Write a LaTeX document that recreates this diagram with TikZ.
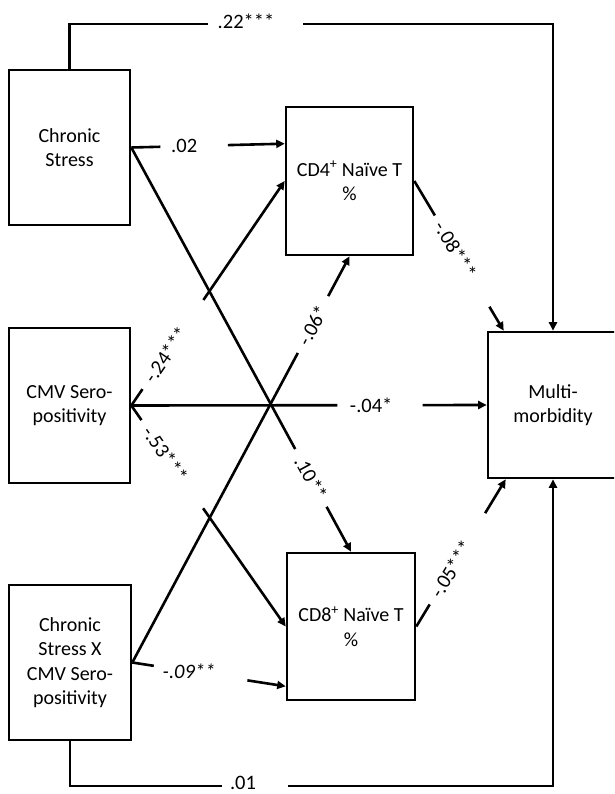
\documentclass[tikz,border=0pt]{standalone}
\usepackage{fontspec}
\setmainfont{Carlito}
\usetikzlibrary{arrows.meta,calc}
\begin{document}
\begin{tikzpicture}[x=1pt,y=-1pt,
  box/.style={draw,line width=2.6pt,inner sep=0pt,align=center,font=\fontsize{20}{24.5}\selectfont},
  conn/.style={line width=2.6pt},
  arr/.style={conn,-{Triangle[length=8.5pt,width=8pt]}},
  lab/.style={font=\fontsize{20.5}{24}\selectfont,inner sep=0pt}]
\clip (0,0) rectangle (614,794);
\fill[white] (0,0) rectangle (614,794);
% boxes
\node[box,minimum width=121pt,minimum height=155pt] (cs) at (69.5,147.5) {Chronic\\Stress};
\node[box,minimum width=127pt,minimum height=148pt] (cd4) at (349.5,181) {CD4\textsuperscript{+} Naïve T\\\%};
\node[box,minimum width=121pt,minimum height=155pt] (cmv) at (69.5,405.5) {CMV Sero-\\positivity};
\node[box,minimum width=130pt,minimum height=146pt] (multi) at (553,405) {Multi-\\morbidity};
\node[box,minimum width=128pt,minimum height=147pt] (cd8) at (351,626.5) {CD8\textsuperscript{+} Naïve T\\\%};
\node[box,minimum width=122pt,minimum height=155pt] (csx) at (70,662.5) {Chronic\\Stress X\\CMV Sero-\\positivity};
% helper end points on box borders
\coordinate (cd4a) at ($(cd4.north west)+(0,38)$);
\coordinate (cd8a) at ($(cd8.south west)+(0,-15)$);
\coordinate (mtop) at ($(multi.north west)+(17,0)$);
\coordinate (mbot) at ($(multi.south west)+(19,0)$);
% top path .22***
\coordinate (tl) at (208,24);
\coordinate (tr) at (303,24);
\draw[conn] (cs.north) |- (tl);
\draw[arr] (tr) -| (multi.north);
\node[lab] (l22) at (246,21) {.22***};
% bottom path .01
\coordinate (bl) at (222,786);
\coordinate (br) at (288,786);
\draw[conn] (csx.south) |- (bl);
\draw[arr] (br) -| (multi.south);
\node[lab] (l01) at (243,783) {.01};
% CS -> CD4
\draw[conn] (cs.east) -- ($(cs.east)!0.19!(cd4a)$);
\draw[arr] ($(cs.east)!0.63!(cd4a)$) -- (cd4a);
\path (cs.east) -- (cd4a) node[lab,pos=0.345] (l02) {.02};
% CS -> CD8
\draw[conn] (cs.east) -- ($(cs.east)!0.746!(cd8.north)$);
\draw[arr] ($(cs.east)!0.889!(cd8.north)$) -- (cd8.north);
\path (cs.east) -- (cd8.north) node[lab,pos=0.818,sloped] (l10) {.10**};
% CMV -> CD4
\draw[conn] (cmv.east) -- ($(cmv.east)!0.073!(cd4.west)$);
\draw[arr] ($(cmv.east)!0.47!(cd4.west)$) -- (cd4.west);
\path (cmv.east) -- (cd4.west) node[lab,pos=0.225,sloped] (l24) {-.24***};
% CMV -> CD8
\draw[conn] (cmv.east) -- ($(cmv.east)!0.066!(cd8.west)$);
\draw[arr] ($(cmv.east)!0.465!(cd8.west)$) -- (cd8.west);
\path (cmv.east) -- (cd8.west) node[lab,pos=0.22,sloped] (l53) {-.53***};
% CMV -> Multi
\draw[conn] (cmv.east) -- ($(cmv.east)!0.58!(multi.west)$);
\draw[arr] ($(cmv.east)!0.82!(multi.west)$) -- (multi.west);
\path (cmv.east) -- (multi.west) node[lab,pos=0.675] (l04) {-.04*};
% CSxCMV -> CD4
\draw[conn] (csx.east) -- ($(csx.east)!0.762!(cd4.south)$);
\draw[arr] ($(csx.east)!0.902!(cd4.south)$) -- (cd4.south);
\path (csx.east) -- (cd4.south) node[lab,pos=0.83,sloped] (l06) {-.06*};
% CSxCMV -> CD8
\draw[conn] (csx.east) -- ($(csx.east)!0.14!(cd8a)$);
\draw[arr] ($(csx.east)!0.75!(cd8a)$) -- (cd8a);
\path (csx.east) -- (cd8a) node[lab,pos=0.37] (l09) {\itshape -.09**};
% CD4 -> Multi
\draw[conn] (cd4.east) -- ($(cd4.east)!0.23!(mtop)$);
\draw[arr] ($(cd4.east)!0.84!(mtop)$) -- (mtop);
\path (cd4.east) -- (mtop) node[lab,pos=0.46,sloped] (l08) {-.08***};
% CD8 -> Multi
\draw[conn] (cd8.east) -- ($(cd8.east)!0.15!(mbot)$);
\draw[arr] ($(cd8.east)!0.77!(mbot)$) -- (mbot);
\path (cd8.east) -- (mbot) node[lab,pos=0.39,sloped] (l05) {-.05***};
\end{tikzpicture}
\end{document}
